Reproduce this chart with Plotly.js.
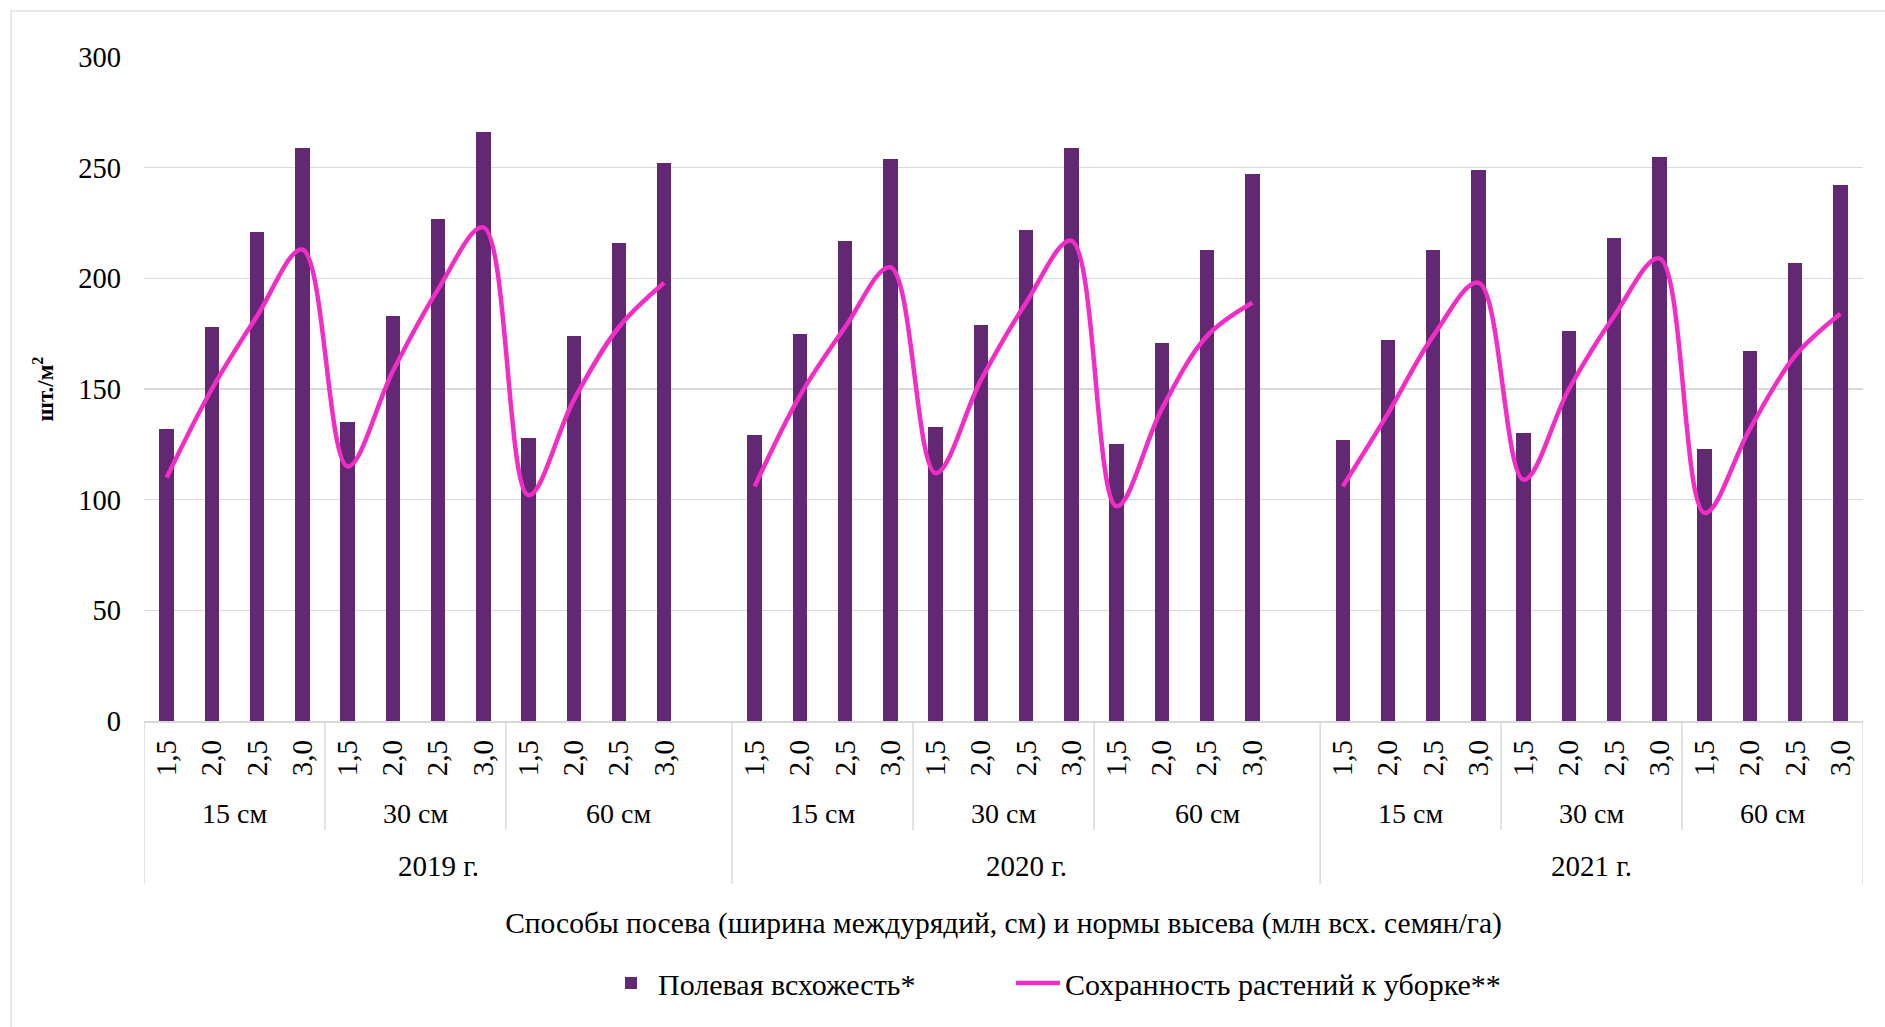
<!DOCTYPE html>
<html>
<head>
<meta charset="utf-8">
<script src="https://cdn.plot.ly/plotly-3.0.1.min.js"></script>
<style>
html,body{margin:0;padding:0;background:#fff;overflow:hidden;}
#chart{width:1885px;height:1027px;}
#frame{position:absolute;left:10px;top:10px;width:1900px;height:1040px;border:2px solid #e8e8e8;pointer-events:none;}
</style>
</head>
<body>
<div id="chart"></div>
<div id="frame"></div>
<script>
// ---- data ----
const years = ['2019 г.', '2020 г.', '2021 г.'];
const spacings = ['15 см', '30 см', '60 см'];
const rates = ['1,5', '2,0', '2,5', '3,0'];

const emergence2019 = [132, 178, 221, 259, 135, 183, 227, 266, 128, 174, 216, 252];
const emergence2020 = [129, 175, 217, 254, 133, 179, 222, 259, 125, 171, 213, 247];
const emergence2021 = [127, 172, 213, 249, 130, 176, 218, 255, 123, 167, 207, 242];

const survival2019 = [110, 150, 183, 213, 115, 158, 195, 223, 102, 145, 178, 198];
const survival2020 = [106, 147, 178, 205, 112, 154, 189, 217, 97, 141, 174, 189];
const survival2021 = [106, 139, 174, 198, 109, 150, 183, 209, 94, 132, 165, 184];

const seriesNames = ['Полевая всхожесть*', 'Сохранность растений к уборке**'];
const yTitle = 'шт./м<sup>2</sup>';
const xTitle = 'Способы посева (ширина междурядий, см) и нормы высева (млн всх. семян/га)';

// ---- build category positions (one empty slot between years, as in the original) ----
const emergence = [emergence2019, emergence2020, emergence2021];
const survival = [survival2019, survival2020, survival2021];
const perYear = spacings.length * rates.length;
const slot = perYear + 1;

const xs = [], yb = [], yl = [], tickvals = [], ticktext = [];
years.forEach((yr, yi) => {
  spacings.forEach((sp, si) => {
    rates.forEach((r, ri) => {
      const k = si * rates.length + ri;
      const pos = yi * slot + k;
      xs.push(pos); yb.push(emergence[yi][k]); yl.push(survival[yi][k]);
      tickvals.push(pos); ticktext.push(r);
    });
  });
  if (yi < years.length - 1) { xs.push(yi * slot + perYear); yb.push(null); yl.push(null); }
});
const xMin = -0.5;
const xMax = (years.length - 1) * slot + perYear - 0.5;

const FONT = 'Liberation Serif, Times New Roman, serif';
const gridCol = '#d9d9d9';
const shapes = [], annotations = [];

// plot geometry helpers (paper fractions below the axis)
const plotL = 144, plotW = 1885 - 144 - 22;
const plotH = 1027 - 57 - 306;
const py = px => -(px - (1027 - 306)) / plotH;
const pxr = px => (px - plotL) / plotW;

years.forEach((yr, yi) => {
  const yStart = yi * slot - 0.5;
  const yEnd = yi < years.length - 1 ? yi * slot + slot - 0.5 : xMax;
  shapes.push({type: 'line', xref: 'x', yref: 'paper', x0: yStart, x1: yStart, y0: 0, y1: py(884), line: {color: gridCol, width: 1.5}});
  if (yi === years.length - 1) shapes.push({type: 'line', xref: 'x', yref: 'paper', x0: yEnd, x1: yEnd, y0: 0, y1: py(884), line: {color: gridCol, width: 1.5}});
  annotations.push({xref: 'x', yref: 'paper', x: (yStart + yEnd) / 2, y: py(866), text: yr, showarrow: false, yanchor: 'middle', font: {family: FONT, size: 29, color: '#000'}});
  spacings.forEach((sp, si) => {
    const s0 = yi * slot + si * rates.length - 0.5;
    const s1 = si < spacings.length - 1 ? s0 + rates.length : yEnd;
    if (si > 0) shapes.push({type: 'line', xref: 'x', yref: 'paper', x0: s0, x1: s0, y0: 0, y1: py(830), line: {color: gridCol, width: 1.5}});
    annotations.push({xref: 'x', yref: 'paper', x: (s0 + s1) / 2, y: py(813), text: sp, showarrow: false, yanchor: 'middle', font: {family: FONT, size: 28, color: '#000'}});
  });
});

const traces = [
  {
    type: 'bar', name: seriesNames[0], x: xs, y: yb, width: 0.32,
    marker: {color: '#632874'}, hoverinfo: 'y', legend: 'legend'
  },
  {
    type: 'scatter', mode: 'lines', name: seriesNames[1], x: xs, y: yl,
    connectgaps: false, legend: 'legend2',
    line: {color: '#F22CC6', width: 4.5, shape: 'spline', smoothing: 1.0}, hoverinfo: 'y'
  }
];

const legendFont = {family: FONT, size: 30, color: '#000'};
const layout = {
  width: 1885, height: 1027,
  paper_bgcolor: '#fff', plot_bgcolor: '#fff',
  margin: {l: plotL, r: 22, t: 57, b: 306},
  font: {family: FONT, size: 28, color: '#000'},
  showlegend: true,
  legend: {orientation: 'h', x: pxr(604), xanchor: 'left', y: py(983), yanchor: 'middle', font: legendFont, itemwidth: 44},
  legend2: {orientation: 'h', x: pxr(1011), xanchor: 'left', y: py(983), yanchor: 'middle', font: legendFont, itemwidth: 44},
  xaxis: {
    range: [xMin, xMax], tickvals: tickvals, ticktext: ticktext, tickangle: -90,
    showgrid: false, zeroline: false, showline: true, linecolor: gridCol, linewidth: 1.5,
    ticks: '', ticklabelstandoff: 6, tickfont: {family: FONT, size: 29, color: '#000'},
    title: {text: xTitle, font: {family: FONT, size: 29.5, color: '#000'}, standoff: 137},
    automargin: false, fixedrange: true
  },
  yaxis: {
    range: [0, 300], tickvals: [0, 50, 100, 150, 200, 250, 300],
    showgrid: true, gridcolor: gridCol, gridwidth: 1.5, zeroline: false, showline: false,
    ticks: '', ticklabelstandoff: 22, tickfont: {family: FONT, size: 28.5, color: '#000'},
    title: {text: yTitle, font: {family: FONT, size: 23, color: '#000', weight: 'bold'}, standoff: 18},
    automargin: false, fixedrange: true
  },
  bargap: 0,
  shapes: shapes,
  annotations: annotations
};

Plotly.newPlot('chart', traces, layout, {displayModeBar: false, staticPlot: true});
</script>
</body>
</html>
